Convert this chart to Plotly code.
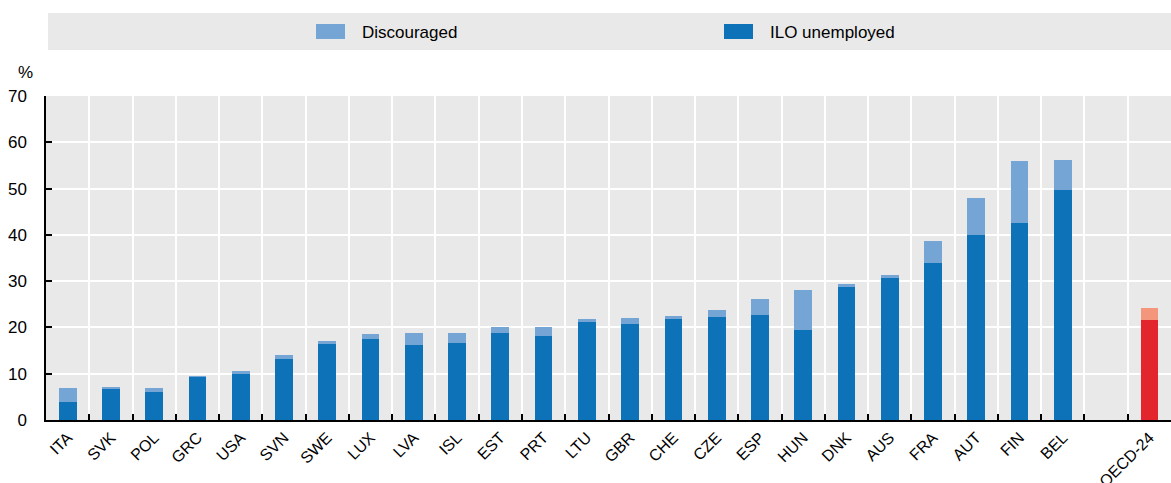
import plotly.graph_objects as go

countries = ["ITA", "SVK", "POL", "GRC", "USA", "SVN", "SWE", "LUX", "LVA", "ISL", "EST", "PRT", "LTU",
             "GBR", "CHE", "CZE", "ESP", "HUN", "DNK", "AUS", "FRA", "AUT", "FIN", "BEL", " ", "OECD-24"]
ilo_unemployed = [3.9, 6.9, 6.1, 9.3, 10.0, 13.2, 16.4, 17.5, 16.2, 16.7, 18.8, 18.2, 21.2,
                  20.7, 22.0, 22.3, 22.6, 19.5, 28.7, 30.6, 33.9, 39.9, 42.6, 49.6, None, 21.5]
total = [7.0, 7.0, 7.0, 9.5, 10.5, 14.1, 17.0, 18.5, 18.7, 18.8, 20.0, 20.2, 21.9,
         22.0, 22.4, 23.8, 26.1, 28.0, 29.4, 31.4, 38.6, 48.0, 55.9, 56.2, None, 24.3]
discouraged = [None if t is None else round(t - i, 2) for t, i in zip(total, ilo_unemployed)]
legend_names = ["Discouraged", "ILO unemployed"]

BLUE = "#0E72B9"
LIGHT_BLUE = "#74A5D5"
RED = "#E3262D"
SALMON = "#F4967B"

ilo_colors = [RED if c == "OECD-24" else BLUE for c in countries]
dis_colors = [SALMON if c == "OECD-24" else LIGHT_BLUE for c in countries]

FONT = "Liberation Sans, Arial, sans-serif"

W, H = 1171, 483
L, R, T, B = 46, 0, 96, 63
PW, PH = W - L - R, H - T - B


def px_x(px):
    return (px - L) / PW


def px_y(py):
    return 1 + (T - py) / PH


fig = go.Figure()
fig.add_trace(go.Bar(x=countries, y=ilo_unemployed, name="ILO unemployed", showlegend=False,
                     marker=dict(color=ilo_colors, line=dict(width=0)), width=0.41))
fig.add_trace(go.Bar(x=countries, y=discouraged, name="Discouraged", showlegend=False,
                     marker=dict(color=dis_colors, line=dict(width=0)), width=0.41))

shapes = [dict(type="rect", xref="paper", yref="paper", x0=px_x(48), x1=1.0,
               y0=px_y(50), y1=px_y(13), fillcolor="#E9E9E9", line=dict(width=0), layer="below")]
annotations = [dict(text="%", xref="paper", yref="paper", x=px_x(25), y=px_y(72),
                    xanchor="center", yanchor="middle", showarrow=False,
                    font=dict(family=FONT, size=17))]
legend_items = [(legend_names[0], LIGHT_BLUE, 316), (legend_names[1], BLUE, 724)]
for name, col, x0 in legend_items:
    shapes.append(dict(type="rect", xref="paper", yref="paper", x0=px_x(x0), x1=px_x(x0 + 29),
                       y0=px_y(39), y1=px_y(24), fillcolor=col, line=dict(width=0)))
    annotations.append(dict(text=name, xref="paper", yref="paper", x=px_x(x0 + 44), y=px_y(32),
                            xanchor="left", yanchor="middle", showarrow=False,
                            font=dict(family=FONT, size=17)))

fig.update_layout(
    barmode="stack",
    width=W, height=H,
    margin=dict(l=L, r=R, t=T, b=B, autoexpand=False),
    paper_bgcolor="white",
    plot_bgcolor="#E9E9E9",
    font=dict(family=FONT, size=17, color="black"),
    showlegend=False,
    shapes=shapes,
    annotations=annotations,
)

fig.update_xaxes(type="category", tickangle=-45, tickson="boundaries",
                 ticks="inside", ticklen=6, tickcolor="black", tickwidth=2,
                 showgrid=True, gridcolor="white", gridwidth=2,
                 showline=True, linecolor="black", linewidth=2, automargin=False,
                 tickfont=dict(family=FONT, size=16))
fig.update_yaxes(range=[0, 70], dtick=10, ticks="inside", ticklen=6,
                 tickcolor="black", tickwidth=2, ticklabelstandoff=14,
                 showgrid=True, gridcolor="white", gridwidth=2,
                 showline=True, linecolor="black", linewidth=1.5, automargin=False,
                 zeroline=False, tickfont=dict(family=FONT, size=17))

fig.write_html("out.html", config={"displayModeBar": False},
               post_script="document.body.style.margin='0';document.body.style.overflow='hidden';")
